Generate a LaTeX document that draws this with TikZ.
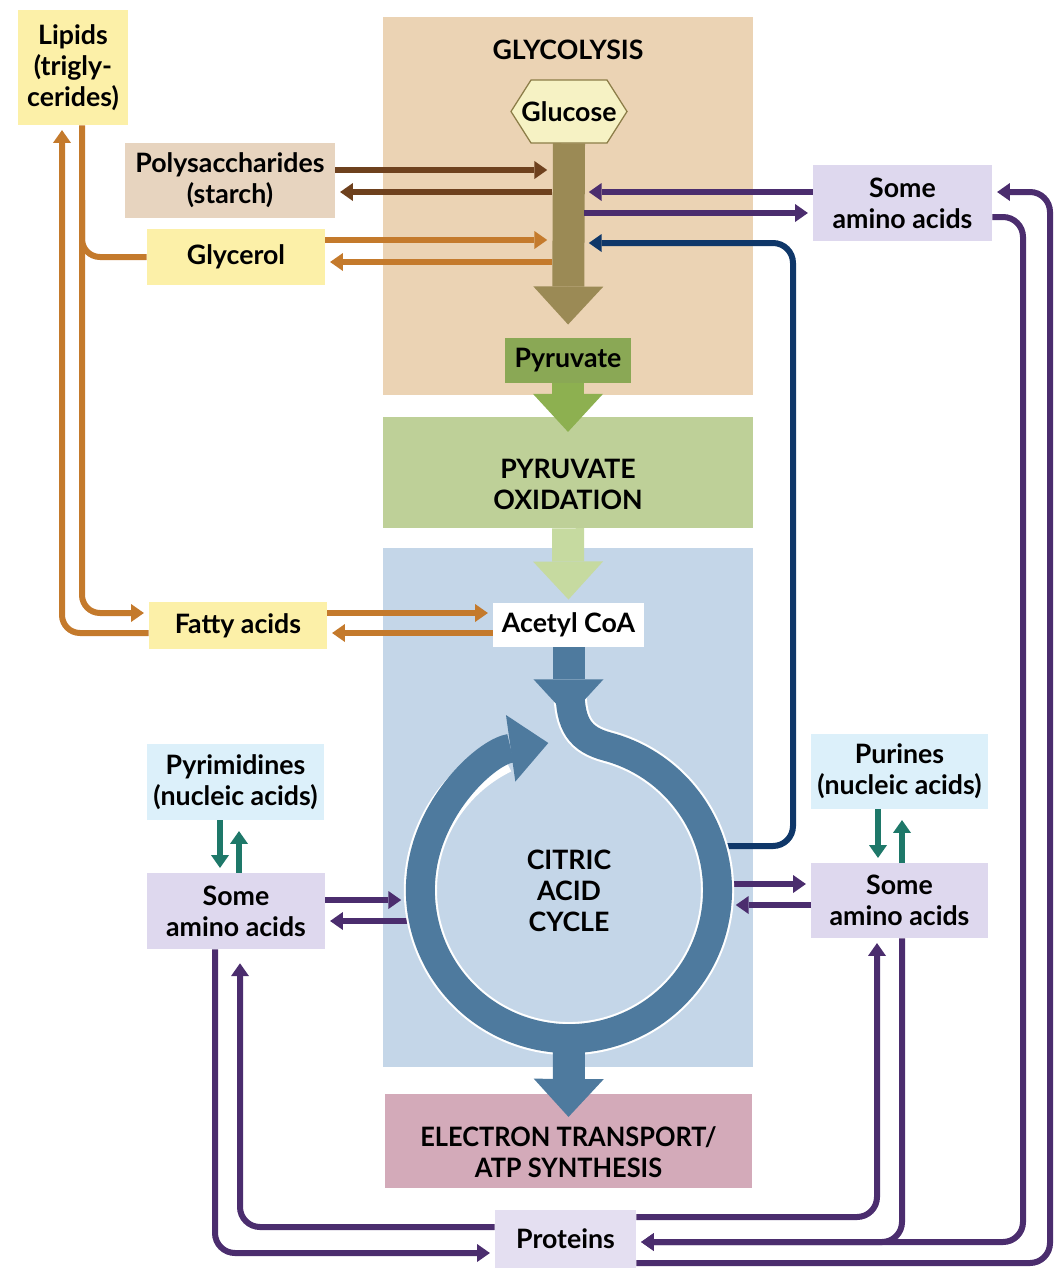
\documentclass[tikz,border=0pt]{standalone}
\usepackage{fontspec}
\setmainfont{Lato}
\newfontfamily\condfont{Lato}[FakeStretch=0.95]
\usepackage{tikz}
\usetikzlibrary{arrows.meta}

\definecolor{glycoBg}{HTML}{EBD3B4}
\definecolor{polyFill}{HTML}{E7D4BF}
\definecolor{lipidFill}{HTML}{FCF0A8}
\definecolor{glucFill}{HTML}{F6F2C4}
\definecolor{glucLine}{HTML}{8C7D48}
\definecolor{oliveArr}{HTML}{9B8A55}
\definecolor{pyrFill}{HTML}{8AA855}
\definecolor{pyrArr}{HTML}{8DB050}
\definecolor{oxidBg}{HTML}{BED098}
\definecolor{oxidArr}{HTML}{C6DAA0}
\definecolor{citBg}{HTML}{C4D6E8}
\definecolor{cycBlue}{HTML}{4E7A9E}
\definecolor{etcFill}{HTML}{D3AAB9}
\definecolor{aminoFill}{HTML}{DED8EE}
\definecolor{protFill}{HTML}{E4DFF1}
\definecolor{nuclFill}{HTML}{DCF0FA}
\definecolor{purpLine}{HTML}{4B2D6E}
\definecolor{navyLine}{HTML}{0F3769}
\definecolor{tealLine}{HTML}{1E7869}
\definecolor{brownLine}{HTML}{6E411E}
\definecolor{orangeLine}{HTML}{C47A2C}

\tikzset{
  box/.style={rectangle, inner sep=0pt, align=center, font=\fontsize{19}{22}\selectfont\bfseries},
  region/.style={rectangle, inner sep=0pt},
  arrow/.style={line width=0.15cm, -{Triangle[width=0.45cm,length=0.32cm,line width=0pt]}, shorten >=0.12cm},
  plain/.style={line width=0.15cm},
  bigarrow/.style={line width=0.8cm, -{Triangle[width=1.75cm,length=0.95cm,line width=0pt]}}
}

\begin{document}
\begin{tikzpicture}[x=0.025cm, y=0.025cm]
  \useasboundingbox (0,0) rectangle (1056,-1269);

  % stages
  \node[region, fill=glycoBg, minimum width=9.25cm, minimum height=9.45cm] (glycolysis) at (568,-206) {};
  \node[region, fill=oxidBg, minimum width=9.25cm, minimum height=2.775cm] (oxidation) at (568,-472.5) {};
  \node[region, fill=citBg, minimum width=9.25cm, minimum height=12.975cm] (citric) at (568,-807.5) {};
  \node[region, fill=etcFill, minimum width=9.175cm, minimum height=2.35cm] (electron) at (568.5,-1141) {};
  \node[box] (glycoT) at (568,-50) {GLYCOLYSIS};
  \node[box] (oxidT) at (568,-484) {PYRUVATE\\OXIDATION};
  \node[box, font=\fontsize{19}{22}\condfont\bfseries] (etcT) at (568.5,-1152) {ELECTRON TRANSPORT/\\ATP SYNTHESIS};

  \filldraw[fill=glucFill, draw=glucLine, line width=0.9pt]
    (511,-111.5) -- (531,-80) -- (607,-80) -- (627,-111.5) -- (607,-143) -- (531,-143) -- cycle;
  \node[box, minimum width=2.9cm, minimum height=1.575cm] (glucose) at (569,-111.5) {Glucose};
  \node[box, fill=pyrFill, minimum width=3.15cm, minimum height=1.125cm] (pyruvate) at (568,-360.5) {Pyruvate};
  \node[box, fill=white, minimum width=3.775cm, minimum height=1.1cm] (acetyl) at (568.5,-625) {Acetyl CoA};

  \draw[bigarrow, oliveArr, shorten >=0.33cm] (glucose.south) -- (pyruvate.north);
  \draw[bigarrow, pyrArr] (pyruvate.south) -- ([yshift=-0.38cm]oxidation.north);
  \draw[bigarrow, oxidArr, shorten >=0.08cm] (oxidation.south) -- (acetyl.north);

  % side pools
  \node[box, fill=lipidFill, minimum width=2.75cm, minimum height=2.875cm] (lipids) at (73,-67.5) {Lipids\\(trigly-\\cerides)};
  \node[box, fill=polyFill, minimum width=5.25cm, minimum height=1.875cm] (polysacc) at (230,-180.5) {Polysaccharides\\(starch)};
  \node[box, fill=lipidFill, minimum width=4.45cm, minimum height=1.4cm] (glycerol) at (236,-257) {Glycerol};
  \node[box, fill=lipidFill, minimum width=4.45cm, minimum height=1.175cm] (fatty) at (238,-625.5) {Fatty acids};
  \node[box, fill=aminoFill, minimum width=4.475cm, minimum height=1.9cm] (aminoT) at (902.5,-203) {Some\\amino acids};
  \node[box, fill=nuclFill, minimum width=4.425cm, minimum height=1.9cm] (pyrimidines) at (235.5,-782) {Pyrimidines\\(nucleic acids)};
  \node[box, fill=aminoFill, minimum width=4.45cm, minimum height=1.9cm] (aminoL) at (236,-911) {Some\\amino acids};
  \node[box, fill=nuclFill, minimum width=4.425cm, minimum height=1.875cm] (purines) at (899.5,-771.5) {Purines\\(nucleic acids)};
  \node[box, fill=aminoFill, minimum width=4.425cm, minimum height=1.875cm] (aminoR) at (899.5,-900.5) {Some\\amino acids};
  \node[box, fill=protFill, minimum width=3.525cm, minimum height=1.45cm] (proteins) at (565.5,-1239) {Proteins};

  \coordinate (shaftW) at (552,-143);
  \coordinate (shaftE) at (584,-143);
  \coordinate (lipJoin) at (82,-200);
  \coordinate (cycNE) at (724,-846);
  \coordinate (cycE1) at (728,-884);
  \coordinate (cycE2) at (731,-905);
  \coordinate (cycW1) at (406,-900);
  \coordinate (cycW2) at (410,-921);

  % lipids and sugars
  \draw[arrow, orangeLine, rounded corners=0.45cm] (lipids.south -| 82,0) |- (fatty.west |- 0,-613);
  \draw[plain, orangeLine, rounded corners=0.45cm] (lipJoin) |- (glycerol.west);
  \draw[arrow, orangeLine, rounded corners=0.45cm] (fatty.west |- 0,-633) -| (lipids.south -| 62,0);
  \draw[arrow, brownLine] (polysacc.east |- 0,-170) -- (shaftW |- 0,-170);
  \draw[arrow, brownLine] (shaftW |- 0,-192) -- (polysacc.east |- 0,-192);
  \draw[arrow, orangeLine] (glycerol.east |- 0,-240) -- (shaftW |- 0,-240);
  \draw[arrow, orangeLine] (shaftW |- 0,-262) -- (glycerol.east |- 0,-262);
  \draw[arrow, orangeLine] (fatty.east |- 0,-613) -- (acetyl.west |- 0,-613);
  \draw[arrow, orangeLine] (acetyl.west |- 0,-633) -- (fatty.east |- 0,-633);

  % amino acids
  \draw[arrow, purpLine] (aminoT.west |- 0,-192) -- (shaftE |- 0,-192);
  \draw[arrow, purpLine] (shaftE |- 0,-213) -- (aminoT.west |- 0,-213);
  \draw[arrow, navyLine, rounded corners=0.5cm] (cycNE) -- (793,-846) -- (793,-243) -- (shaftE |- 0,-243);
  \draw[arrow, purpLine, rounded corners=0.5cm] (proteins.east |- 0,-1263) -- (1050,-1263) -- (1050,-192) -- (aminoT.east |- 0,-192);
  \draw[arrow, purpLine, rounded corners=0.5cm] (aminoT.east |- 0,-217) -- (1023,-217) -- (1023,-1242) -- (proteins.east |- 0,-1242);
  \draw[arrow, purpLine, rounded corners=0.5cm] (aminoR.south -| 902,0) -- (902,-1242) -- (proteins.east |- 0,-1242);
  \draw[arrow, purpLine, rounded corners=0.5cm] (proteins.east |- 0,-1217) -- (877,-1217) -- (aminoR.south -| 877,0);
  \draw[arrow, purpLine] (cycE1) -- (aminoR.west |- cycE1);
  \draw[arrow, purpLine] (aminoR.west |- cycE2) -- (cycE2);
  \draw[arrow, purpLine] (aminoL.east |- cycW1) -- (cycW1);
  \draw[arrow, purpLine] (cycW2) -- (aminoL.east |- cycW2);
  \draw[arrow, purpLine, rounded corners=0.5cm] (aminoL.south -| 215,0) -- (215,-1253) -- (proteins.west |- 0,-1253);
  \draw[arrow, purpLine, rounded corners=0.5cm, shorten >=0.35cm] (proteins.west |- 0,-1227) -- (240,-1227) -- (aminoL.south -| 240,0);

  % nucleic acids
  \draw[arrow, tealLine] (pyrimidines.south -| 220,0) -- (aminoL.north -| 220,0);
  \draw[arrow, tealLine, shorten >=0.27cm] (aminoL.north -| 239,0) -- (pyrimidines.south -| 239,0);
  \draw[arrow, tealLine] (purines.south -| 878,0) -- (aminoR.north -| 878,0);
  \draw[arrow, tealLine, shorten >=0.27cm] (aminoR.north -| 902,0) -- (purines.south -| 902,0);

  % citric acid cycle
  \draw[white, line width=0.83cm] (570,-690) .. controls (570,-725) and (580.4,-739.4) .. (607.4,-746.6)
    arc[start angle=75, end angle=-244, radius=3.7125cm];
  \draw[cycBlue, line width=0.725cm, -{Triangle[width=1.68cm,length=0.95cm,line width=0pt]}]
    (570,-690) .. controls (570,-725) and (580.4,-739.4) .. (607.4,-746.6)
    arc[start angle=75, end angle=-262, radius=3.7125cm];
  \draw[bigarrow, cycBlue] (acetyl.south) -- ++(0,-70);
  \draw[bigarrow, cycBlue] (569,-1040) -- ([yshift=-0.58cm]electron.north);
  \node[box] (cycT) at (569,-891) {CITRIC\\ACID\\CYCLE};
\end{tikzpicture}
\end{document}
